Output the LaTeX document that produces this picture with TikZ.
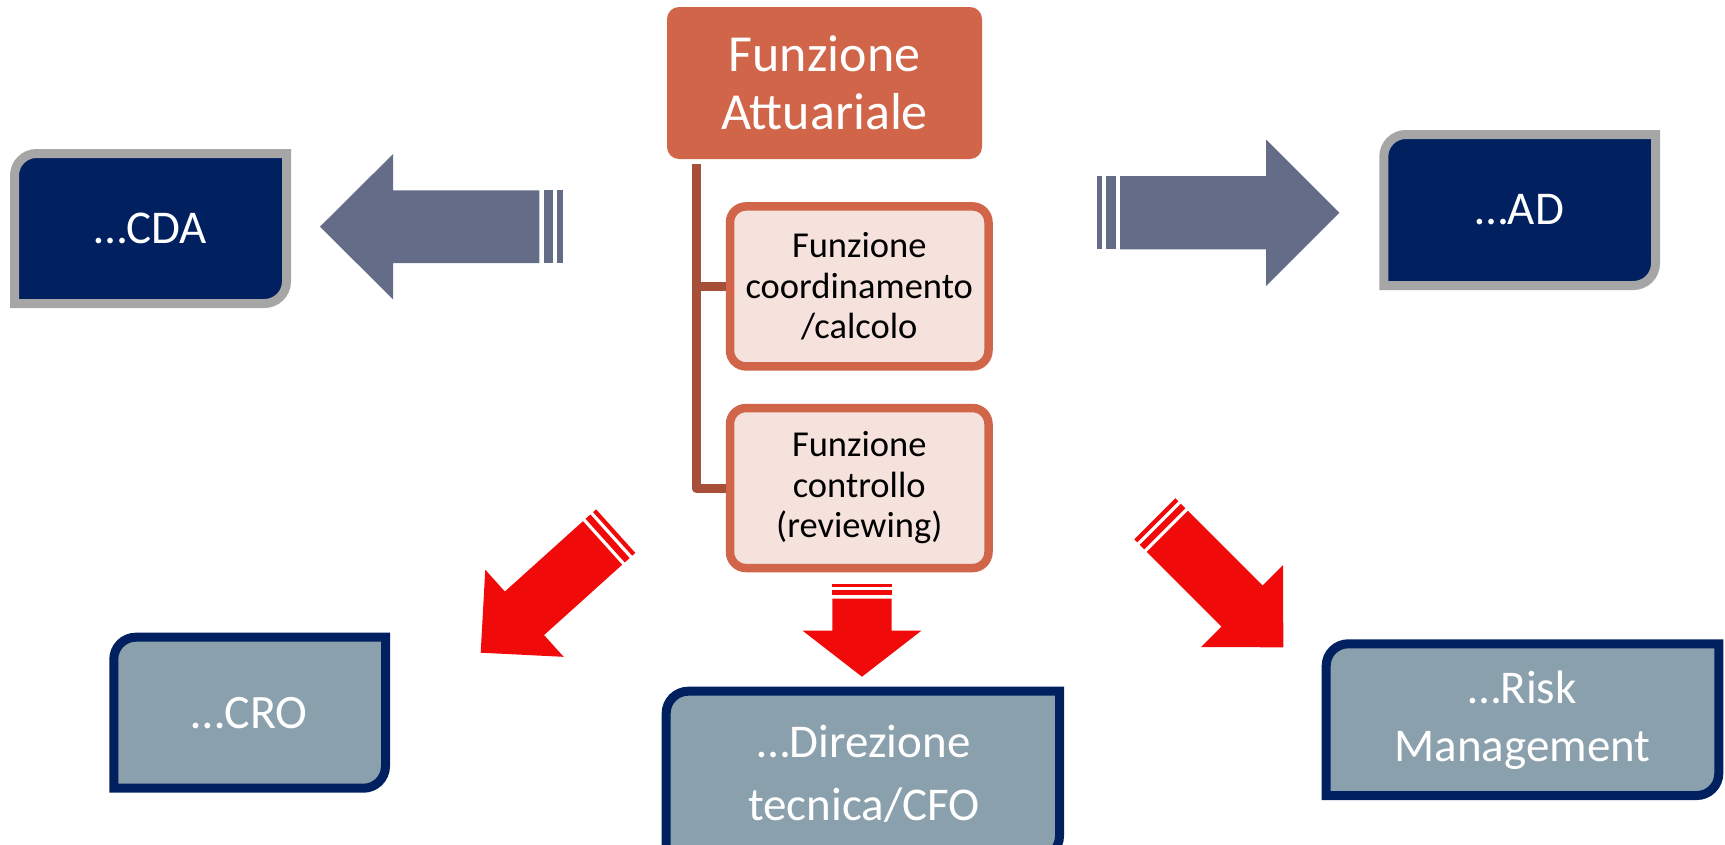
\documentclass[tikz,border=0pt]{standalone}
\usepackage{fontspec}
\setmainfont{Carlito}
\definecolor{navy}{HTML}{002060}
\definecolor{grayb}{HTML}{A6A6A6}
\definecolor{slate}{HTML}{8AA0AD}
\definecolor{coral}{HTML}{D16549}
\definecolor{connc}{HTML}{A64F39}
\definecolor{pale}{HTML}{F6E2DC}
\definecolor{arrowgray}{HTML}{646C88}
\definecolor{arrowred}{HTML}{F00A0A}
\newcommand\striparrow[9]{%
  \begin{scope}[shift={(#1)},rotate=#2]
    \fill[#9] (0,0) -- (-#5,#4) -- (-#5,{#4/2}) -- ({-#3},{#4/2}) -- ({-#3},{-#4/2}) -- (-#5,{-#4/2}) -- (-#5,-#4) -- cycle;
    \fill[#9] ({-#3-#6},{#4/2}) rectangle ({-#3-#6-#7},{-#4/2});
    \fill[#9] ({-#3-2*#6-#7},{#4/2}) rectangle ({-#3-2*#6-#7-#8},{-#4/2});
  \end{scope}}
\newcommand\diagbox[5]{%
  \draw[#5] (#1,#4) -- (#1,{#2+22}) .. controls (#1,{#2+9.9}) and ({#1+9.9},#2) .. ({#1+22},#2)
    -- (#3,#2) -- (#3,{#4-22}) .. controls (#3,{#4-9.9}) and ({#3-9.9},#4) .. ({#3-22},#4) -- cycle;}
\begin{document}
\begin{tikzpicture}[x=1pt,y=-1pt,
  darkbox/.style={fill=navy,draw=grayb,line width=9pt},
  lightbox/.style={fill=slate,draw=navy,line width=9pt},
  boxtext/.style={text=white,align=center,inner sep=0pt},
  topbox/.style={rectangle,rounded corners=12pt,fill=coral,text=white,minimum width=315pt,minimum height=152pt,inner sep=0pt,outer sep=0pt,align=center,font=\fontsize{52}{58}\selectfont},
  subbox/.style={rectangle,rounded corners=16pt,draw=coral,line width=8.5pt,fill=pale,minimum width=258.5pt,minimum height=160pt,inner sep=0pt,align=center,font=\fontsize{36.5}{40.5}\selectfont},
  conn/.style={draw=connc,line width=9pt,line join=round},
  grayarrow/.style={fill=arrowgray},
  redarrow/.style={fill=arrowred}]
\useasboundingbox (0,0) rectangle (1725,844);
\clip (0,0) rectangle (1725,844);
% boxes
\diagbox{14.5}{153.5}{286.5}{303.5}{darkbox}
\node[boxtext,font=\fontsize{47}{56}\selectfont] (cda) at (150.5,228.5) {…CDA};
\diagbox{1383.8}{134.5}{1655.5}{285.5}{darkbox}
\node[boxtext,font=\fontsize{47}{56}\selectfont] (ad) at (1519.7,210) {…AD};
\diagbox{113.8}{637.2}{385.5}{788.2}{lightbox}
\node[boxtext,font=\fontsize{48}{56}\selectfont] (cro) at (249.7,712.7) {…CRO};
\diagbox{1326.2}{643.8}{1718.8}{795.5}{lightbox}
\node[boxtext,font=\fontsize{47}{58.5}\selectfont] (risk) at (1522.5,720) {…Risk\\Management};
\diagbox{666.2}{691.2}{1059.5}{858}{lightbox}
\node[boxtext,font=\fontsize{47}{62.5}\selectfont] (dir) at (864,774) {…Direzione\\tecnica/CFO};
% central tree
\node[topbox] (fa) at (824.5,83) {Funzione\\Attuariale};
\node[subbox] (fc) at (859.25,286.4) {Funzione\\coordinamento\\/calcolo};
\node[subbox] (fr) at (859.25,488.05) {Funzione\\controllo\\(reviewing)};
\coordinate (trunk) at (696,164);
\draw[conn] (trunk) |- (fr.west);
\draw[conn] (trunk |- fc.west) -- (fc.west);
% arrows
\striparrow{320,226.7}{180}{219.3}{72.6}{73}{4.6}{8.7}{5.4}{grayarrow}
\striparrow{1339.3,212.7}{0}{219.3}{73.3}{73.3}{4.5}{9.3}{4.7}{grayarrow}
\striparrow{862,676.7}{-90}{78}{59.4}{46}{3.4}{5.3}{2.7}{redarrow}
\striparrow{480.7,652.7}{222}{164}{58.6}{58.9}{3.5}{6.5}{4.2}{redarrow}
\striparrow{1283.3,647.3}{-45}{164}{58}{58.3}{3.5}{6.5}{4.2}{redarrow}
\end{tikzpicture}
\end{document}
